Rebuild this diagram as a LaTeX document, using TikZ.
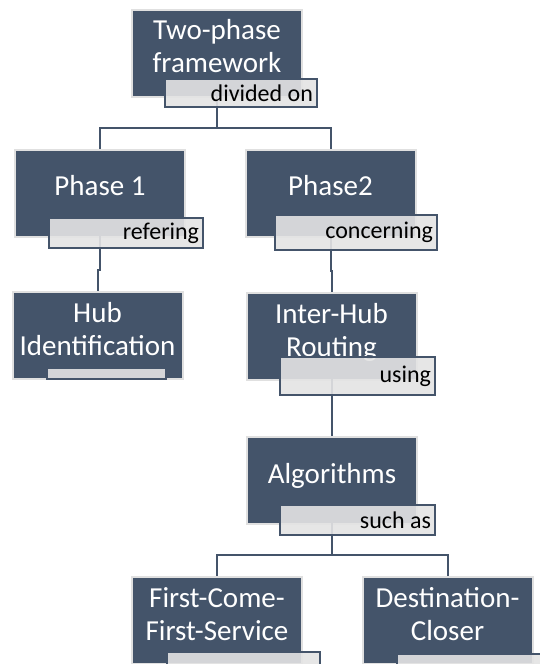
\documentclass[tikz,border=0pt]{standalone}
\usepackage{fontspec}
\setmainfont{Carlito}
\definecolor{slate}{HTML}{44546A}
\definecolor{frame}{HTML}{E0E0E0}
\definecolor{tagfill}{HTML}{E4E4E4}
\pgfdeclarelayer{fg}
\pgfsetlayers{main,fg}
\begin{document}
\begin{tikzpicture}[x=1pt,y=-1pt,
  box/.style={rectangle, fill=slate, draw=frame, line width=2pt,
    minimum width=170pt, minimum height=87pt, inner sep=0pt},
  boxtext/.style={text=white, align=center, inner sep=0pt,
    font=\fontsize{29}{33}\selectfont},
  tag/.style 2 args={rectangle, fill=tagfill, fill opacity=0.9, text opacity=1,
    draw=slate, line width=1.5pt, text width=#1pt, minimum height=#2pt,
    inner sep=4pt, align=flush right, text=black,
    font=\fontsize{24}{28}\selectfont},
  conn/.style={draw=slate, line width=2pt}]

\fill[white] (0,0) rectangle (540,664);
\useasboundingbox (0,0) rectangle (540,664);
\clip (0,0) rectangle (540,664);

% dark boxes
\node[box] (A) at (217,53.5) {};
\node[box] (B) at (100,193.5) {};
\node[box] (C) at (330.5,193.5) {};
\node[box] (D) at (97.5,335) {};
\node[box] (E) at (331.5,336.5) {};
\node[box] (F) at (332,480) {};
\node[box] (G) at (217,620.5) {};
\node[box] (H) at (447.5,620.5) {};

% box captions
\node[boxtext] (A-t) at ([yshift=7.5pt]A.center) {Two-phase\\framework};
\node[boxtext] (B-t) at ([yshift=8pt]B.center) {Phase 1};
\node[boxtext] (C-t) at ([yshift=8pt]C.center) {Phase2};
\node[boxtext] (D-t) at ([yshift=6pt]D.center) {Hub\\Identification};
\node[boxtext] (E-t) at ([yshift=4pt]E.center) {Inter-Hub\\Routing};
\node[boxtext] (F-t) at ([yshift=4pt]F.center) {Algorithms};
\node[boxtext] (G-t) at ([yshift=6.5pt]G.center) {First-Come-\\First-Service};
\node[boxtext] (H-t) at ([yshift=6.5pt]H.center) {Destination-\\Closer};

% relation tags, laid over boxes and connectors
\begin{pgfonlayer}{fg}
\node[tag={144}{28}] (At) at (241,93) {divided on};
\node[tag={146}{30}] (Bt) at (126,233) {refering};
\node[tag={154}{35}] (Ct) at (356,232.5) {concerning};
\node[tag={111}{11}] (Dt) at (106.5,373.5) {};
\node[tag={147}{38}] (Et) at (357.5,376) {using};
\node[tag={147}{30}] (Ft) at (357.5,520) {such as};
\node[tag={145}{30}] (Gt) at (243.5,667) {};
\node[tag={145}{30}] (Ht) at (473.5,669) {};
\end{pgfonlayer}

% connectors
\coordinate (j1) at (217,128);
\coordinate (j2) at (332,555);
\draw[conn] (A.center |- At.north) -- (j1);
\draw[conn] (j1) -| (B.north);
\draw[conn] (j1) -| (C.north);
\draw[conn] (B.center |- Bt.north) -- (B.center |- 0,270) -| (D.north);
\draw[conn] (C.center |- Ct.north) -- (C.center |- 0,271) -| (E.north);
\draw[conn] (E.center |- Et.north) -- (E.center |- F.north);
\draw[conn] (F.center |- Ft.north) -- (j2);
\draw[conn] (j2) -| (G.north);
\draw[conn] (j2) -| (H.north);
\end{tikzpicture}
\end{document}
